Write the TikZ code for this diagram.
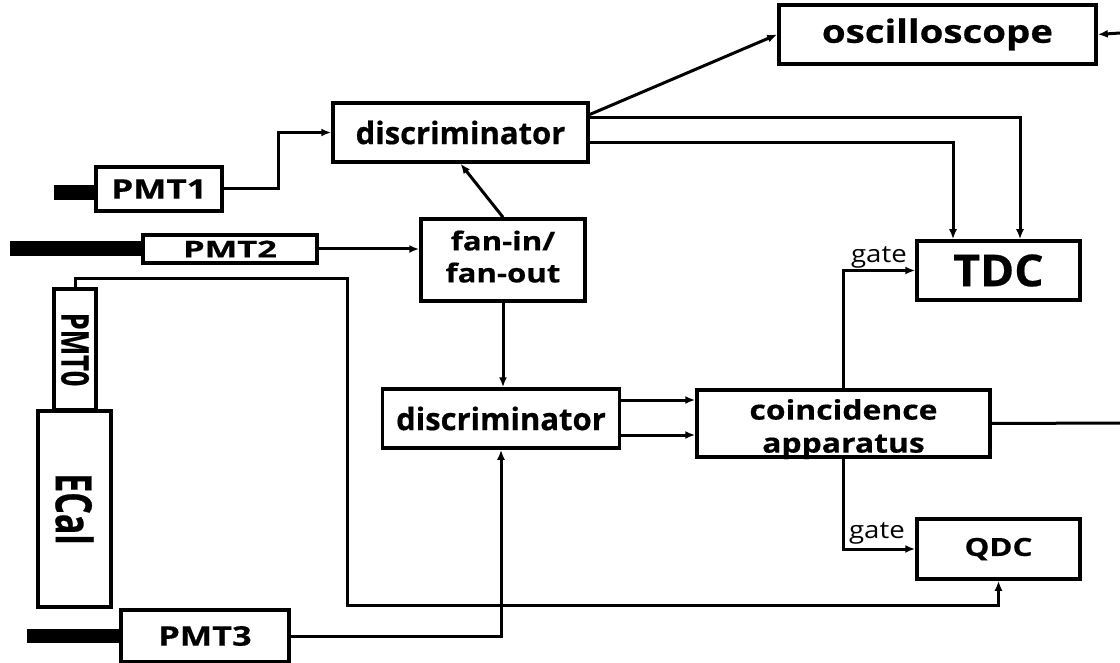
\documentclass[tikz,border=0pt]{standalone}
\usepackage{fontspec}
\setmainfont{Open Sans}[BoldFeatures={FakeBold=0.5}]
\usetikzlibrary{arrows.meta}
\tikzset{
  box/.style={draw, line width=3.5pt, rectangle, inner sep=0pt, font=\bfseries},
  bar/.style={fill=black, draw=none, rectangle, inner sep=0pt},
  conn/.style={line width=3pt, -{Latex[length=10pt,width=8pt]}},
  line/.style={line width=3pt},
  lbl/.style={font=\fontsize{24}{24}\selectfont, inner sep=0pt}
}
\newcommand{\sx}[2]{\scalebox{#1}[1]{#2}}
\newcommand{\twolines}[3]{\scalebox{#1}[1]{\begin{tabular}{@{}c@{}}#2\\#3\end{tabular}}}
\begin{document}
\begin{tikzpicture}[x=1pt,y=-1pt]
\useasboundingbox (0,0) rectangle (1120,663);
% boxes
\node[box, minimum width=317, minimum height=59, font=\bfseries\fontsize{32}{32}\selectfont] (osc) at (937.5,34.5) {\sx{1.2}{oscilloscope}};
\node[box, minimum width=255, minimum height=59, font=\bfseries\fontsize{31}{31}\selectfont] (d1) at (460.5,132.5) {discriminator};
\node[box, minimum width=126, minimum height=44, font=\bfseries\fontsize{27}{27}\selectfont] (pmt1) at (159,189) {\sx{1.3}{PMT1}};
\node[bar, minimum width=42, minimum height=15] (bar1) at (75,192.5) {};
\node[box, minimum width=174, minimum height=28, font=\bfseries\fontsize{23}{23}\selectfont] (pmt2) at (230,249) {\sx{1.5}{PMT2}};
\node[bar, minimum width=133, minimum height=15] (bar2) at (76.5,248.5) {};
\node[box, minimum width=164, minimum height=82, font=\bfseries\fontsize{26}{32}\selectfont] (fan) at (503,260) {\twolines{1.2}{fan-in/}{fan-out}};
\node[box, minimum width=163, minimum height=59, font=\bfseries\fontsize{44}{44}\selectfont] (tdc) at (998.5,270.5) {\sx{1.05}{TDC}};
\node[box, minimum width=42, minimum height=121] (pmt0) at (75,349.5) {};
\node[rotate=-90, inner sep=0pt] (pmt0t) at (pmt0) {\scalebox{1}[1.41]{\bfseries\fontsize{27}{27}\selectfont PMT0}};
\node[box, minimum width=237, minimum height=59, font=\bfseries\fontsize{31}{31}\selectfont] (d2) at (501,418.5) {discriminator};
\node[box, minimum width=293, minimum height=67] (coinc) at (843.5,423.5) {};
\node[inner sep=0pt, font=\bfseries\fontsize{27}{33}\selectfont] (coinct) at ([yshift=-6pt]coinc.center) {\twolines{1.18}{coincidence}{apparatus}};
\node[box, minimum width=73, minimum height=196] (ecal) at (74.5,509) {};
\node[rotate=-90, inner sep=0pt] (ecalt) at (ecal) {\scalebox{1}[1.47]{\bfseries\fontsize{34}{34}\selectfont ECal}};
\node[box, minimum width=163, minimum height=60, font=\bfseries\fontsize{25}{25}\selectfont] (qdc) at (998.5,549) {\sx{1.25}{QDC}};
\node[box, minimum width=168, minimum height=52, font=\bfseries\fontsize{27}{27}\selectfont] (pmt3) at (205,636) {\sx{1.27}{PMT3}};
\node[bar, minimum width=94, minimum height=14] (bar3) at (74,636) {};
% free ends
\coordinate (oscin) at (1120,33);
\coordinate (coincout) at (1120,423);
\coordinate (r0) at (347,605);
% connectors
\draw[conn] (oscin) -- (osc.east);
\draw[conn] ([yshift=18pt]d1.east) -- (osc.west);
\draw[conn] ([yshift=14.5pt]d1.east) -| ([xshift=21.5pt]tdc.north);
\draw[conn] ([yshift=-10.5pt]d1.east) -| ([xshift=-45.5pt]tdc.north);
\draw[conn] (pmt1.east) -- ++(55,0) |- (d1.west);
\draw[conn] (pmt2.east) -- (pmt2.east -| fan.west);
\draw[conn] (fan.north) -- (d1.south);
\draw[conn] (fan.south) -- (fan.south |- d2.north);
\draw[conn] ([yshift=18.5pt]d2.east) -- ([yshift=18.5pt]d2.east -| coinc.west);
\draw[conn] ([yshift=-16.5pt]d2.east) -- ([yshift=-16.5pt]d2.east -| coinc.west);
\draw[line] (coinc.east) -- (coincout);
\draw[conn] (coinc.north) |- node[lbl, pos=1, anchor=base east, xshift=-7pt, yshift=8pt] {\sx{1.15}{gate}} (tdc.west);
\draw[conn] (coinc.south) |- node[lbl, pos=1, anchor=base east, xshift=-9pt, yshift=11pt] {\sx{1.15}{gate}} (qdc.west);
\draw[conn] (pmt0.north) -- ++(0,-9) -| (r0) -| (qdc.south);
\draw[conn] (pmt3.east) -| (d2.south);
\end{tikzpicture}
\end{document}
